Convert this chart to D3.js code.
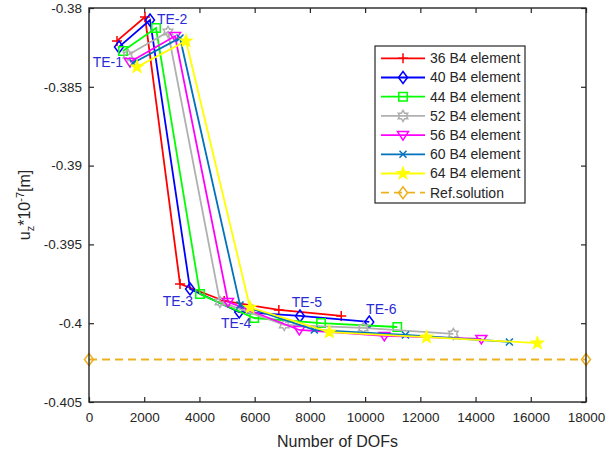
<!DOCTYPE html>
<html>
<head>
<meta charset="utf-8">
<script src="https://cdn.jsdelivr.net/npm/d3@7/dist/d3.min.js"></script>
<style>
  body { margin: 0; background: #fff; }
  text { font-family: Arial, "Liberation Sans", sans-serif; }
</style>
</head>
<body>
<div id="chart"></div>
<script>
// values (DOFs, u_z*1e-7)
var dof36 = [1014, 2028, 3296, 4896, 6876, 9135];
var uz36  = [-0.38209, -0.38057, -0.39751, -0.39859, -0.39916, -0.39954];
var dof40 = [1087, 2209, 3660, 5440, 7640, 10150];
var uz40  = [-0.38247, -0.38076, -0.39783, -0.39929, -0.39954, -0.39992];
var dof44 = [1231, 2427, 4020, 5984, 8404, 11165];
var uz44  = [-0.38273, -0.38127, -0.39815, -0.39967, -0.39999, -0.40024];
var dof52 = [1412, 2861, 4744, 7072, 9932, 13195];
var uz52  = [-0.38298, -0.38152, -0.39865, -0.40011, -0.40030, -0.40068];
var dof56 = [1485, 3115, 5034, 7616, 10696, 14210];
var uz56  = [-0.38343, -0.38178, -0.39865, -0.40043, -0.40081, -0.40100];
var dof60 = [1594, 3296, 5469, 8160, 11460, 15225];
var uz60  = [-0.38349, -0.38190, -0.39884, -0.40043, -0.40075, -0.40119];
var dof64 = [1738, 3513, 5831, 8704, 12224, 16240];
var uz64  = [-0.38374, -0.38209, -0.39900, -0.40056, -0.40088, -0.40126];

var refDof = [0, 18000];
var refUz  = [-0.4023, -0.4023];

var seriesNames = ["36 B4 element", "40 B4 element", "44 B4 element", "52 B4 element",
                   "56 B4 element", "60 B4 element", "64 B4 element"];
var teLabels = ["TE-1", "TE-2", "TE-3", "TE-4", "TE-5", "TE-6"];

var xTicks = [0, 2000, 4000, 6000, 8000, 10000, 12000, 14000, 16000, 18000];
var yTicks = [-0.405, -0.4, -0.395, -0.39, -0.385, -0.38];

var series = [
  {name: seriesNames[0], x: dof36, y: uz36, color: "#ff0000", marker: "plus"},
  {name: seriesNames[1], x: dof40, y: uz40, color: "#0000ff", marker: "diamond"},
  {name: seriesNames[2], x: dof44, y: uz44, color: "#00ff00", marker: "square"},
  {name: seriesNames[3], x: dof52, y: uz52, color: "#b0b0b0", marker: "hexagram"},
  {name: seriesNames[4], x: dof56, y: uz56, color: "#ff00ff", marker: "tridown"},
  {name: seriesNames[5], x: dof60, y: uz60, color: "#0072bd", marker: "cross"},
  {name: seriesNames[6], x: dof64, y: uz64, color: "#ffff00", marker: "pentagram"}
];
var refSeries = {name: "Ref.solution", x: refDof, y: refUz, color: "#edb120", marker: "diamond"};

// label offsets from the blue (40 element) points
var teOffsets = [[4, 20, "end"], [7, 4, "start"], [3, 17, "end"], [-3, 16, "middle"], [7, -9, "middle"], [12, -8, "middle"]];

var W = 608, H = 458;
var margin = {top: 8, right: 22, bottom: 56, left: 89};
var width = W - margin.left - margin.right;
var height = H - margin.top - margin.bottom;

var svg = d3.select("#chart").append("svg")
    .attr("width", W)
    .attr("height", H);
var g = svg.append("g")
    .attr("transform", "translate(" + margin.left + "," + margin.top + ")");

var xScale = d3.scaleLinear().domain([0, 18000]).range([0, width]);
var yScale = d3.scaleLinear().domain([-0.405, -0.38]).range([height, 0]);

function starPath(n, R, r) {
  var pts = [];
  for (var i = 0; i < 2 * n; i++) {
    var a = -Math.PI / 2 + i * Math.PI / n;
    var rr = i % 2 === 0 ? R : r;
    pts.push([rr * Math.cos(a), rr * Math.sin(a)]);
  }
  return "M" + pts.map(function(p) { return p[0].toFixed(2) + "," + p[1].toFixed(2); }).join("L") + "Z";
}

function markerPath(type) {
  switch (type) {
    case "plus": return "M-5,0H5M0,-5V5";
    case "diamond": return "M0,-6L4.5,0L0,6L-4.5,0Z";
    case "square": return "M-4.2,-4.2H4.2V4.2H-4.2Z";
    case "hexagram": return starPath(6, 5.5, 3.2);
    case "tridown": return "M-5.5,-3.5L5.5,-3.5L0,5Z";
    case "cross": return "M-3.5,-3.5L3.5,3.5M-3.5,3.5L3.5,-3.5";
    case "pentagram": return starPath(5, 6, 2.5);
  }
}

function drawMarker(sel, s) {
  sel.append("path")
    .attr("d", markerPath(s.marker))
    .attr("fill", s.marker === "pentagram" ? s.color : "none")
    .attr("stroke", s.color)
    .attr("stroke-width", 1.5);
}

// axes (ticks inside, MATLAB style)
var xAxis = d3.axisBottom(xScale).tickValues(xTicks).tickSizeInner(-5).tickSizeOuter(0).tickPadding(10)
    .tickFormat(d3.format("d"));
var yAxis = d3.axisLeft(yScale).tickValues(yTicks).tickSizeInner(-5).tickSizeOuter(0).tickPadding(7)
    .tickFormat(function(d) { return String(+d.toFixed(3)); });

var gx = g.append("g").attr("class", "x axis")
    .attr("transform", "translate(0," + height + ")")
    .call(xAxis);
var gy = g.append("g").attr("class", "y axis").call(yAxis);
// top and right ticks
g.append("g").attr("transform", "translate(0,0)")
    .call(d3.axisTop(xScale).tickValues(xTicks).tickSizeInner(-5).tickSizeOuter(0).tickFormat(""));
g.append("g").attr("transform", "translate(" + width + ",0)")
    .call(d3.axisRight(yScale).tickValues(yTicks).tickSizeInner(-5).tickSizeOuter(0).tickFormat(""));

g.selectAll(".domain").remove();
g.selectAll(".tick line").attr("stroke", "#262626").attr("stroke-width", 1.2);
g.selectAll(".tick text").attr("fill", "#262626").style("font-size", "13.5px");

// series lines + markers
var line = d3.line().x(function(d) { return xScale(d[0]); }).y(function(d) { return yScale(d[1]); });

// reference solution under the others
g.append("path")
    .attr("d", line(d3.zip(refSeries.x, refSeries.y)))
    .attr("fill", "none")
    .attr("stroke", refSeries.color)
    .attr("stroke-width", 2)
    .attr("stroke-dasharray", "8,5");
g.selectAll(".refmark")
    .data(d3.zip(refSeries.x, refSeries.y))
    .enter().append("g")
    .attr("class", "refmark")
    .attr("transform", function(d) { return "translate(" + xScale(d[0]) + "," + yScale(d[1]) + ")"; })
    .each(function() { drawMarker(d3.select(this), refSeries); });

series.forEach(function(s) {
  var pts = d3.zip(s.x, s.y);
  g.append("path")
      .attr("d", line(pts))
      .attr("fill", "none")
      .attr("stroke", s.color)
      .attr("stroke-width", 1.8);
  g.selectAll(null)
      .data(pts)
      .enter().append("g")
      .attr("transform", function(d) { return "translate(" + xScale(d[0]) + "," + yScale(d[1]) + ")"; })
      .each(function() { drawMarker(d3.select(this), s); });
});

// TE annotations next to the 40 element points
g.selectAll(".te")
    .data(teLabels)
    .enter().append("text")
    .attr("class", "te")
    .attr("x", function(d, i) { return xScale(dof40[i]) + teOffsets[i][0]; })
    .attr("y", function(d, i) { return yScale(uz40[i]) + teOffsets[i][1]; })
    .attr("text-anchor", function(d, i) { return teOffsets[i][2]; })
    .attr("fill", "#2b2bd6")
    .style("font-size", "14px")
    .text(function(d) { return d; });

// box
g.append("rect")
    .attr("width", width)
    .attr("height", height)
    .attr("fill", "none")
    .attr("stroke", "#262626")
    .attr("stroke-width", 1.4);

// axis labels
g.append("text")
    .attr("x", width / 2)
    .attr("y", height + 45)
    .attr("text-anchor", "middle")
    .attr("fill", "#262626")
    .style("font-size", "16px")
    .text("Number of DOFs");

var yl = svg.append("text")
    .attr("transform", "translate(30,205) rotate(-90)")
    .attr("text-anchor", "middle")
    .attr("fill", "#262626")
    .style("font-size", "16px");
yl.append("tspan").text("u");
yl.append("tspan").attr("dy", 4).style("font-size", "11px").text("z");
yl.append("tspan").attr("dy", -4).text("*10");
yl.append("tspan").attr("dy", -6).style("font-size", "11px").text("-7");
yl.append("tspan").attr("dy", 6).text("[m]");

// legend
var legendItems = series.concat([refSeries]);
var legend = svg.append("g").attr("transform", "translate(375,46)");
legend.append("rect")
    .attr("width", 150)
    .attr("height", 157)
    .attr("fill", "#fff")
    .attr("stroke", "#262626")
    .attr("stroke-width", 1.2);
var rows = legend.selectAll(".row")
    .data(legendItems)
    .enter().append("g")
    .attr("class", "row")
    .attr("transform", function(d, i) { return "translate(0," + (12.3 + i * 19.2) + ")"; });
rows.append("line")
    .attr("x1", 6).attr("x2", 50)
    .attr("stroke", function(d) { return d.color; })
    .attr("stroke-width", 1.8)
    .attr("stroke-dasharray", function(d) { return d === refSeries ? "8,5" : null; });
rows.append("g")
    .attr("transform", "translate(28,0)")
    .each(function(d) { drawMarker(d3.select(this), d); });
rows.append("text")
    .attr("x", 55)
    .attr("dy", "0.35em")
    .attr("fill", "#262626")
    .style("font-size", "14px")
    .text(function(d) { return d.name; });
</script>
</body>
</html>
